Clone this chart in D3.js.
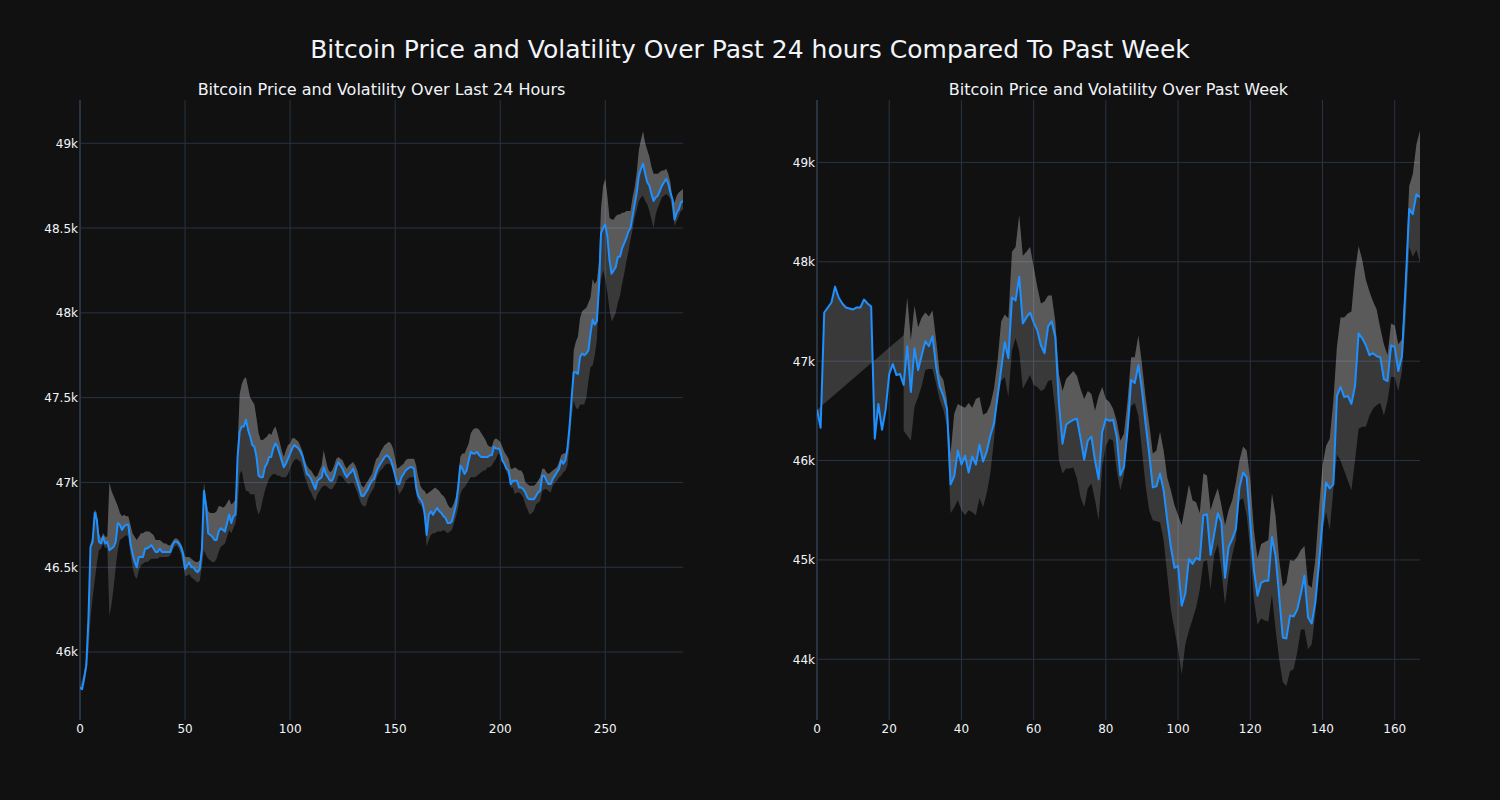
<!DOCTYPE html>
<html><head><meta charset="utf-8">
<script src="https://cdn.jsdelivr.net/npm/d3@7"></script>
<style>html,body{margin:0;padding:0;background:#111111;} svg{display:block;}</style>
</head><body><svg id="chart" width="1500" height="800"></svg>
<script>
// ---------- DATA (values in thousands of USD) ----------
const mainTitle = "Bitcoin Price and Volatility Over Past 24 hours Compared To Past Week";
const dayTitle = "Bitcoin Price and Volatility Over Last 24 Hours";
const weekTitle = "Bitcoin Price and Volatility Over Past Week";

const dayPrice = [45.79,45.78,45.85,45.92,46.19,46.62,46.65,46.82,46.78,46.65,
46.64,46.68,46.64,46.65,46.60,46.61,46.62,46.65,46.76,46.75,
46.72,46.74,46.75,46.75,46.64,46.58,46.53,46.50,46.56,46.56,
46.56,46.61,46.61,46.62,46.63,46.61,46.59,46.59,46.61,46.59,
46.59,46.59,46.59,46.59,46.63,46.65,46.65,46.64,46.62,46.58,
46.49,46.51,46.53,46.50,46.50,46.48,46.47,46.49,46.60,46.95,
46.86,46.70,46.69,46.68,46.66,46.66,46.71,46.73,46.72,46.71,
46.76,46.81,46.76,46.80,46.81,47.15,47.30,47.33,47.33,47.37,
47.31,47.27,47.22,47.21,47.15,47.04,47.03,47.03,47.09,47.11,
47.15,47.15,47.20,47.23,47.21,47.17,47.13,47.09,47.11,47.14,
47.17,47.20,47.22,47.21,47.20,47.18,47.15,47.10,47.05,47.04,
47.02,46.99,46.96,47.01,47.02,47.03,47.09,47.05,47.03,47.01,
47.01,47.04,47.09,47.12,47.10,47.08,47.05,47.03,47.05,47.06,
47.08,47.04,47.00,46.96,46.92,46.92,46.94,46.96,46.99,47.01,
47.02,47.06,47.09,47.11,47.13,47.15,47.16,47.15,47.13,47.09,
47.04,46.99,46.99,47.03,47.05,47.07,47.08,47.09,47.09,47.08,
46.97,46.92,46.90,46.88,46.82,46.69,46.81,46.83,46.81,46.83,
46.85,46.83,46.82,46.80,46.79,46.76,46.76,46.77,46.82,46.87,
46.97,47.10,47.08,47.05,47.07,47.13,47.18,47.17,47.17,47.18,
47.16,47.15,47.15,47.15,47.15,47.16,47.16,47.21,47.20,47.20,
47.19,47.13,47.11,47.08,47.07,46.99,47.01,47.01,47.01,46.97,
46.97,46.96,46.94,46.91,46.90,46.90,46.90,46.92,46.94,46.95,
47.04,47.04,47.01,46.99,46.99,47.02,47.04,47.06,47.08,47.13,
47.11,47.13,47.20,47.33,47.50,47.65,47.65,47.64,47.74,47.76,
47.75,47.76,47.78,47.88,47.96,47.93,47.95,48.15,48.47,48.50,
48.52,48.45,48.31,48.23,48.25,48.27,48.33,48.33,48.38,48.41,
48.44,48.48,48.50,48.57,48.64,48.71,48.81,48.85,48.88,48.82,
48.77,48.75,48.70,48.66,48.68,48.69,48.72,48.75,48.77,48.79,
48.76,48.71,48.67,48.55,48.59,48.61,48.65,48.66];

const dayUpper = [null,null,45.88,45.96,46.25,46.64,46.68,46.84,46.82,46.70,
46.67,46.70,46.68,46.68,47.00,46.95,46.92,46.89,46.86,46.82,
46.80,46.81,46.80,46.80,46.75,46.70,46.68,46.66,46.68,46.70,
46.70,46.71,46.71,46.71,46.70,46.69,46.66,46.66,46.66,46.65,
46.64,46.64,46.63,46.63,46.65,46.67,46.67,46.66,46.64,46.61,
46.56,46.56,46.56,46.55,46.54,46.53,46.53,46.54,46.66,47.00,
46.90,46.83,46.82,46.82,46.82,46.83,46.86,46.86,46.85,46.86,
46.88,46.90,46.87,46.88,46.90,47.20,47.52,47.58,47.61,47.62,
47.56,47.50,47.48,47.46,47.38,47.29,47.25,47.25,47.26,47.27,
47.29,47.28,47.31,47.33,47.29,47.24,47.19,47.15,47.19,47.22,
47.23,47.26,47.26,47.25,47.24,47.21,47.18,47.13,47.10,47.08,
47.07,47.05,47.03,47.04,47.07,47.10,47.19,47.13,47.08,47.06,
47.07,47.10,47.14,47.15,47.14,47.13,47.10,47.08,47.10,47.11,
47.12,47.10,47.07,47.02,46.98,46.97,46.99,47.01,47.03,47.05,
47.10,47.14,47.15,47.18,47.20,47.22,47.23,47.24,47.23,47.20,
47.14,47.08,47.09,47.10,47.11,47.13,47.14,47.14,47.14,47.14,
47.10,47.03,46.98,46.96,46.95,46.93,46.94,46.95,46.96,46.97,
46.96,46.95,46.93,46.92,46.90,46.87,46.85,46.85,46.88,46.92,
47.02,47.15,47.17,47.17,47.20,47.23,47.29,47.31,47.32,47.32,
47.31,47.29,47.27,47.25,47.22,47.21,47.21,47.25,47.26,47.25,
47.24,47.21,47.18,47.16,47.14,47.08,47.08,47.09,47.08,47.07,
47.07,47.05,47.00,46.99,46.98,46.98,46.98,46.99,47.01,47.03,
47.08,47.08,47.06,47.05,47.06,47.07,47.08,47.09,47.12,47.16,
47.17,47.17,47.20,47.30,47.50,47.78,47.83,47.86,47.97,48.01,
48.02,48.03,48.06,48.09,48.20,48.17,48.19,48.30,48.62,48.75,
48.79,48.69,48.56,48.55,48.55,48.57,48.58,48.58,48.59,48.59,
48.60,48.60,48.60,48.68,48.74,48.83,48.96,49.02,49.07,49.00,
48.96,48.92,48.86,48.82,48.82,48.82,48.83,48.84,48.84,48.85,
48.82,48.77,48.67,48.65,48.69,48.71,48.72,48.73];

const dayLower = [null,null,45.80,45.88,46.00,46.20,46.32,46.42,46.52,46.60,
46.61,46.64,46.61,46.62,46.21,46.28,46.38,46.50,46.60,46.66,
46.67,46.68,46.69,46.68,46.58,46.50,46.45,46.43,46.48,46.51,
46.52,46.53,46.53,46.54,46.55,46.55,46.55,46.55,46.56,46.56,
46.56,46.56,46.56,46.57,46.60,46.62,46.63,46.61,46.58,46.52,
46.45,46.45,46.46,46.44,46.43,46.42,46.41,46.42,46.50,46.60,
46.57,46.55,46.54,46.53,46.53,46.55,46.59,46.62,46.63,46.64,
46.68,46.72,46.70,46.73,46.76,46.85,47.05,47.07,47.00,46.95,
46.95,46.93,46.93,46.93,46.85,46.81,46.84,46.90,46.95,46.99,
47.02,47.04,47.05,47.05,47.04,47.04,47.03,47.03,47.03,47.05,
47.08,47.11,47.13,47.14,47.13,47.12,47.08,47.03,47.00,46.96,
46.94,46.91,46.89,46.93,46.95,46.97,46.98,46.98,46.97,46.96,
46.96,46.98,47.00,47.04,47.04,47.03,47.01,47.00,46.99,47.00,
47.00,46.97,46.94,46.90,46.87,46.86,46.86,46.90,46.93,46.95,
46.97,47.02,47.05,47.07,47.08,47.10,47.11,47.11,47.10,47.07,
47.02,46.97,46.93,46.95,46.97,47.01,47.02,47.03,47.03,47.03,
46.93,46.88,46.87,46.85,46.78,46.62,46.66,46.69,46.70,46.70,
46.71,46.71,46.71,46.72,46.71,46.70,46.71,46.72,46.76,46.80,
46.85,46.93,46.96,46.97,46.99,47.01,47.03,47.03,47.03,47.04,
47.05,47.06,47.07,47.07,47.09,47.09,47.10,47.12,47.14,47.17,
47.16,47.14,47.10,47.06,47.04,46.97,46.97,46.93,46.94,46.94,
46.93,46.91,46.87,46.84,46.81,46.82,46.83,46.87,46.88,46.89,
46.95,46.96,46.96,46.95,46.94,46.98,47.00,47.01,47.03,47.04,
47.06,47.07,47.10,47.22,47.38,47.48,47.44,47.43,47.46,47.46,
47.46,47.50,47.60,47.68,47.69,47.75,47.84,48.10,48.20,48.25,
48.20,48.12,48.02,47.95,47.97,48.00,48.06,48.10,48.17,48.23,
48.30,48.36,48.43,48.49,48.56,48.61,48.66,48.68,48.69,48.66,
48.64,48.60,48.55,48.50,48.58,48.62,48.65,48.68,48.69,48.70,
48.69,48.67,48.60,48.51,48.54,48.57,48.60,48.61];

const weekPrice = [46.51,46.33,47.49,47.54,47.59,47.75,47.64,47.58,47.54,47.53,
47.52,47.54,47.54,47.62,47.58,47.55,46.22,46.57,46.31,46.51,
46.87,46.97,46.86,46.87,46.76,47.15,46.69,47.13,46.91,47.06,
47.20,47.15,47.25,46.94,46.74,46.65,46.52,45.76,45.84,46.10,
45.96,46.05,45.88,46.04,45.96,46.16,45.99,46.09,46.25,46.37,
46.64,46.92,47.19,47.03,47.64,47.61,47.85,47.38,47.44,47.49,
47.39,47.31,47.16,47.08,47.35,47.40,47.24,46.57,46.17,46.36,
46.39,46.41,46.42,46.22,46.01,46.20,46.24,46.00,45.81,46.29,
46.42,46.40,46.41,46.24,45.85,45.93,46.30,46.81,46.78,46.96,
46.71,46.37,46.07,45.73,45.74,45.87,45.70,45.40,45.13,44.92,
44.94,44.54,44.66,45.01,44.96,45.02,45.00,45.45,45.46,45.05,
45.26,45.47,45.38,44.82,45.13,45.21,45.31,45.73,45.88,45.83,
45.37,44.90,44.64,44.77,44.79,44.79,45.23,45.04,44.63,44.22,
44.21,44.44,44.43,44.50,44.66,44.84,44.42,44.36,44.57,44.96,
45.39,45.78,45.72,45.76,46.65,46.74,46.64,46.65,46.57,46.75,
47.28,47.23,47.16,47.06,47.08,47.05,47.04,46.82,46.80,47.16,
47.14,46.90,47.05,47.75,48.53,48.48,48.68,48.65];

const weekUpper = [null,null,null,null,null,null,null,null,null,null,
null,null,null,null,null,null,null,null,null,null,
null,null,null,null,47.26,47.64,47.21,47.56,47.34,47.44,
47.49,47.45,47.51,47.21,46.87,46.81,46.61,46.07,46.47,46.57,
46.55,46.53,46.58,46.53,46.62,46.64,46.46,46.48,46.56,46.72,
47.00,47.40,47.47,47.43,48.10,48.15,48.47,48.06,48.10,48.15,
47.95,47.75,47.58,47.60,47.66,47.66,47.40,46.87,46.70,46.82,
46.86,46.90,46.85,46.72,46.62,46.70,46.67,46.50,46.65,46.74,
46.62,46.59,46.52,46.40,46.20,46.27,46.60,47.04,47.04,47.26,
46.97,46.64,46.37,46.07,46.10,46.29,46.10,45.83,45.70,45.55,
45.45,45.35,45.55,45.76,45.60,45.58,45.47,45.87,45.85,45.50,
45.62,45.72,45.55,45.35,45.50,45.60,45.78,46.00,46.14,46.10,
45.80,45.30,45.02,45.16,45.18,45.20,45.67,45.44,45.00,44.73,
44.77,45.00,44.99,45.03,45.10,45.14,44.75,44.72,45.00,45.50,
45.95,46.15,46.22,46.60,47.15,47.44,47.44,47.48,47.50,47.90,
48.16,48.02,47.82,47.70,47.60,47.52,47.33,47.17,47.06,47.38,
47.36,47.17,47.22,47.86,48.76,48.88,49.18,49.32];

const weekLower = [null,null,null,null,null,null,null,null,null,null,
null,null,null,null,null,null,null,null,null,null,
null,null,null,null,46.30,46.25,46.20,46.54,46.64,46.75,
46.91,46.92,46.92,46.77,46.61,46.51,46.34,45.47,45.53,45.60,
45.50,45.45,45.50,45.48,45.45,45.62,45.53,45.67,45.87,46.20,
46.60,46.80,46.84,46.64,47.11,47.23,47.10,46.72,46.79,46.86,
46.76,46.74,46.70,46.72,46.80,46.81,46.50,46.00,45.87,45.92,
45.92,45.93,45.82,45.63,45.53,45.72,45.77,45.60,45.40,45.94,
46.15,46.22,46.20,45.90,45.70,45.85,46.25,46.55,46.58,46.45,
46.10,45.75,45.50,45.40,45.39,45.38,45.20,44.85,44.50,44.30,
44.10,43.85,44.15,44.29,44.40,44.52,44.70,44.98,45.00,44.70,
45.05,45.16,44.90,44.55,44.85,45.05,45.20,45.60,45.62,45.45,
45.10,44.60,44.35,44.41,44.39,44.38,44.65,44.30,44.00,43.77,
43.73,43.88,43.90,44.07,44.30,44.30,44.10,44.15,44.45,44.85,
45.30,45.48,45.30,45.70,46.06,46.00,45.90,45.80,45.70,46.00,
46.32,46.34,46.34,46.45,46.52,46.56,46.58,46.45,46.60,46.84,
46.84,46.70,46.90,47.40,48.15,48.05,48.12,47.99];

const dayXTicks = [0,50,100,150,200,250];
const dayYTicks = [46,46.5,47,47.5,48,48.5,49];
const weekXTicks = [0,20,40,60,80,100,120,140,160];
const weekYTicks = [44,45,46,47,48,49];

// ---------- LAYOUT ----------
const FONT = "'DejaVu Sans', Verdana, sans-serif";
const TXT = "#f2f5fa", GRID = "#283442", LINE = "#1E90FF", BAND = "rgba(255,255,255,0.17)";
const svg = d3.select("#chart");
svg.append("rect").attr("width",1500).attr("height",800).attr("fill","#111111");

svg.append("text").attr("x",750).attr("y",57.5).attr("text-anchor","middle")
  .attr("font-family",FONT).attr("font-size",25).attr("fill",TXT).text(mainTitle);

function panel(id, x0, x1, yTop, yBot, yDom, price, upper, lower, xTicks, yTicks, title){
  const x = d3.scaleLinear().domain([0, price.length-1]).range([x0, x1]);
  const y = d3.scaleLinear().domain(yDom).range([yBot, yTop]);
  const g = svg.append("g");
  svg.append("clipPath").attr("id", id).append("rect")
    .attr("x", x0).attr("y", yTop).attr("width", x1-x0).attr("height", yBot-yTop);
  g.selectAll(".hg").data(yTicks).enter().append("line")
    .attr("x1", x0).attr("x2", x1).attr("y1", d=>y(d)).attr("y2", d=>y(d))
    .attr("stroke", GRID).attr("stroke-width", 1);
  g.selectAll(".vg").data(xTicks.filter(d=>d!==0)).enter().append("line")
    .attr("x1", d=>x(d)).attr("x2", d=>x(d)).attr("y1", yTop).attr("y2", yBot)
    .attr("stroke", GRID).attr("stroke-width", 1);
  g.append("line").attr("x1", x(0)).attr("x2", x(0)).attr("y1", yTop).attr("y2", yBot)
    .attr("stroke", GRID).attr("stroke-width", 2);
  const pts = price.map((v,i)=>[x(i), y(v)]);
  const up = upper.map((v,i)=> v==null?null:[x(i), y(v)]).filter(Boolean);
  const lo = lower.map((v,i)=> v==null?null:[x(i), y(v)]).filter(Boolean);
  const poly1 = up.concat(pts.slice().reverse());
  const poly2 = lo.concat(up.slice().reverse());
  const pstr = p => "M" + p.map(q=>q[0].toFixed(2)+","+q[1].toFixed(2)).join("L") + "Z";
  const plot = g.append("g").attr("clip-path", `url(#${id})`);
  plot.append("path").attr("d", pstr(poly2)).attr("fill", BAND).attr("stroke","none");
  plot.append("path").attr("d", pstr(poly1)).attr("fill", BAND).attr("stroke","none");
  const line = d3.line().x((d,i)=>x(i)).y(d=>y(d));
  plot.append("path").datum(price).attr("d", line).attr("fill","none")
    .attr("stroke", LINE).attr("stroke-width", 2).attr("stroke-linejoin","round");
  g.selectAll(".yl").data(yTicks).enter().append("text")
    .attr("x", x0-2).attr("y", d=>y(d)+4.5).attr("text-anchor","end")
    .attr("font-family",FONT).attr("font-size",12).attr("fill",TXT)
    .text(d=>d3.format("~g")(d)+"k");
  g.selectAll(".xl").data(xTicks).enter().append("text")
    .attr("x", d=>x(d)).attr("y", yBot+13).attr("text-anchor","middle")
    .attr("font-family",FONT).attr("font-size",12).attr("fill",TXT)
    .text(d=>d);
  g.append("text").attr("x",(x0+x1)/2).attr("y",94.5).attr("text-anchor","middle")
    .attr("font-family",FONT).attr("font-size",16).attr("fill",TXT).text(title);
}

panel("clipDay", 80, 683, 100, 720, [45.599, 49.255], dayPrice, dayUpper, dayLower, dayXTicks, dayYTicks, dayTitle);
panel("clipWeek", 817, 1420, 100, 720, [43.389, 49.628], weekPrice, weekUpper, weekLower, weekXTicks, weekYTicks, weekTitle);
</script></body></html>
